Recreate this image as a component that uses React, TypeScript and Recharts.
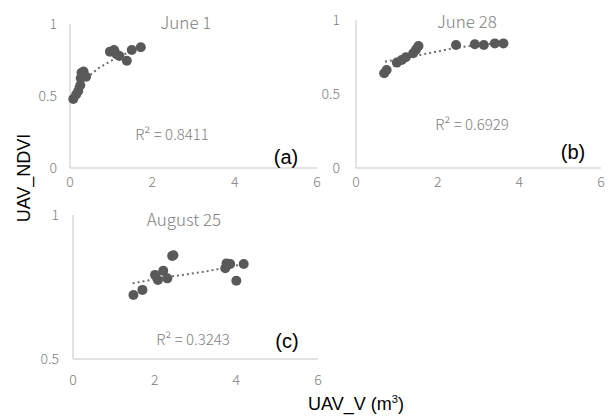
import React from 'react'
import { ScatterChart, Scatter, XAxis, YAxis } from 'recharts'

const xTicks = [0, 2, 4, 6]

// June 1
const june1V = [0.08, 0.15, 0.2, 0.25, 0.26, 0.28, 0.33, 0.39, 0.97, 1.07, 1.13, 1.2, 1.38, 1.5, 1.72]
const june1Ndvi = [0.479, 0.51, 0.535, 0.575, 0.623, 0.662, 0.67, 0.634, 0.808, 0.819, 0.79, 0.778, 0.745, 0.819, 0.838]
const june1TrendV = [0.12, 0.25, 0.49, 0.69, 0.89, 1.2, 1.62]
const june1TrendNdvi = [0.56, 0.6, 0.646, 0.692, 0.727, 0.775, 0.82]

// June 28
const june28V = [0.69, 0.75, 1.0, 1.12, 1.22, 1.4, 1.47, 1.53, 2.45, 2.91, 3.13, 3.4, 3.61]
const june28Ndvi = [0.64, 0.662, 0.712, 0.73, 0.748, 0.775, 0.8, 0.824, 0.831, 0.836, 0.831, 0.842, 0.842]
const june28TrendV = [0.71, 1.57, 1.98, 2.38, 2.79, 3.61]
const june28TrendNdvi = [0.718, 0.764, 0.786, 0.809, 0.824, 0.847]

// August 25
const aug25V = [1.48, 1.7, 2.01, 2.08, 2.21, 2.31, 2.43, 2.46, 3.73, 3.76, 3.85, 4.0, 4.18]
const aug25Ndvi = [0.722, 0.74, 0.792, 0.774, 0.806, 0.78, 0.858, 0.86, 0.815, 0.832, 0.83, 0.772, 0.83]
const aug25TrendV = [1.46, 2.39, 3.2, 4.18]
const aug25TrendNdvi = [0.763, 0.786, 0.803, 0.83]

const pairs = (xs: number[], ys: number[]) => xs.map((x, i) => ({ x, y: ys[i] }))

const jp = '"Noto Sans CJK JP", sans-serif'
const arial = '"Liberation Sans", Arial, sans-serif'

const tickFont = { fontFamily: jp, fontSize: 14, fontWeight: 300, fill: '#808080' }
const dot = (p: any) => <circle cx={p.cx} cy={p.cy} r={5} fill="#595959" />
const none = () => <g />

type PanelProps = {
  left: number
  top: number
  width: number
  height: number
  margin: any
  yWidth: number
  yDomain: number[]
  yTicks: number[]
  xMargin: number
  yMargin: number
  xHeight: number
  points: { x: number; y: number }[]
  trend: { x: number; y: number }[]
}

const Panel = (p: PanelProps) => (
  <div style={{ position: 'absolute', left: p.left, top: p.top }}>
    <ScatterChart width={p.width} height={p.height} margin={p.margin}>
      <XAxis type="number" dataKey="x" domain={[0, 6]} ticks={xTicks} tickLine={false} tickSize={0}
        tickMargin={p.xMargin} height={p.xHeight} axisLine={{ stroke: '#d9d9d9', strokeWidth: 1.5 }} tick={tickFont} />
      <YAxis type="number" dataKey="y" domain={p.yDomain} ticks={p.yTicks} tickLine={false} tickSize={0}
        tickMargin={p.yMargin} width={p.yWidth} axisLine={{ stroke: '#d9d9d9', strokeWidth: 1.5 }} tick={tickFont} />
      <Scatter data={p.trend} shape={none} line={{ stroke: '#6f6f6f', strokeWidth: 2, strokeDasharray: '2 3' }}
        lineJointType="monotoneX" isAnimationActive={false} />
      <Scatter data={p.points} shape={dot} isAnimationActive={false} />
    </ScatterChart>
  </div>
)

const Txt = ({ x, y, size, color, font, weight, children }: any) => (
  <div style={{ position: 'absolute', left: x, top: y, transform: 'translate(-50%, -50%)', fontSize: size,
    color, fontFamily: font, fontWeight: weight ?? 'normal', whiteSpace: 'nowrap', lineHeight: 1 }}>{children}</div>
)

export default function App() {
  return (
    <div style={{ position: 'absolute', left: 0, top: 0, width: 609, height: 416, background: '#fff', overflow: 'hidden' }}>
      <Panel left={0} top={0} width={330} height={190} margin={{ top: 24, right: 13, bottom: 0, left: 0 }}
        yWidth={70} xHeight={22} xMargin={9} yMargin={13} yDomain={[0, 1]} yTicks={[0, 0.5, 1]}
        points={pairs(june1V, june1Ndvi)} trend={pairs(june1TrendV, june1TrendNdvi)} />
      <Panel left={320} top={0} width={289} height={190} margin={{ top: 20, right: 8, bottom: 0, left: 0 }}
        yWidth={36} xHeight={22} xMargin={9} yMargin={16} yDomain={[0, 1]} yTicks={[0, 0.5, 1]}
        points={pairs(june28V, june28Ndvi)} trend={pairs(june28TrendV, june28TrendNdvi)} />
      <Panel left={0} top={195} width={330} height={200} margin={{ top: 20, right: 12, bottom: 0, left: 0 }}
        yWidth={73} xHeight={36} xMargin={16} yMargin={14} yDomain={[0.5, 1]} yTicks={[0.5, 1]}
        points={pairs(aug25V, aug25Ndvi)} trend={pairs(aug25TrendV, aug25TrendNdvi)} />

      <Txt x={186} y={21} size={17} color="#808080" font={jp} weight={300}>June 1</Txt>
      <Txt x={467} y={20} size={17} color="#808080" font={jp} weight={300}>June 28</Txt>
      <Txt x={184} y={218} size={17} color="#808080" font={jp} weight={300}>August 25</Txt>

      <Txt x={172} y={133} size={15} color="#808080" font={jp} weight={300}>R² = 0.8411</Txt>
      <Txt x={472} y={123} size={15} color="#808080" font={jp} weight={300}>R² = 0.6929</Txt>
      <Txt x={193} y={338} size={15} color="#808080" font={jp} weight={300}>R² = 0.3243</Txt>

      <Txt x={286} y={157} size={20} color="#000" font={arial}>(a)</Txt>
      <Txt x={573} y={152} size={20} color="#000" font={arial}>(b)</Txt>
      <Txt x={287} y={341} size={20} color="#000" font={arial}>(c)</Txt>

      <div style={{ position: 'absolute', left: 24, top: 178, transform: 'translate(-50%, -50%) rotate(-90deg)',
        fontSize: 18, fontFamily: arial, color: '#000', whiteSpace: 'nowrap', lineHeight: 1 }}>UAV_NDVI</div>
      <Txt x={356} y={403} size={18} color="#000" font={arial}>UAV_V (m<sup style={{ fontSize: 11 }}>3</sup>)</Txt>
    </div>
  )
}
